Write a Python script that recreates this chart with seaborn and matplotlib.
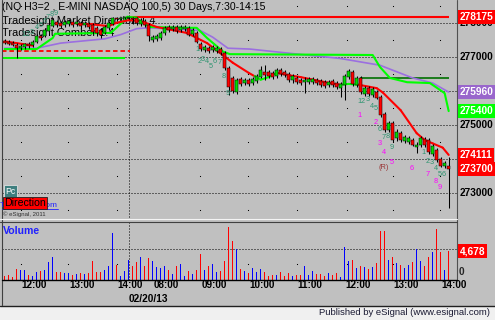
import matplotlib
matplotlib.use("Agg")
import matplotlib.pyplot as plt
import matplotlib.transforms as mtransforms
from matplotlib.lines import Line2D
from matplotlib.patches import Rectangle
import numpy as np
import pandas as pd
import seaborn as sns

# ---------------- data (5-minute NQ bars) ----------------
opens = [277450, 277425, 277400, 277350, 277250, 277275, 277375, 277350, 277425, 277600,
         277600, 277750, 277900, 278025, 278000, 277925, 277950, 278025, 277950, 278000,
         277925, 277950, 277925, 277850, 277775, 277700, 277850, 277950, 278150, 278100,
         278125, 278150, 278150, 278150, 277950, 278050, 277925, 277500, 277525, 277550,
         277700, 277875, 277825, 277875, 277775, 277825, 277850, 277675, 277700, 277375,
         277200, 277250, 277200, 277175, 277225, 277100, 276675, 276375, 275950, 276350,
         276225, 276325, 276225, 276275, 276400, 276550, 276550, 276525, 276425, 276600,
         276550, 276500, 276325, 276375, 276325, 276250, 276250, 276250, 276325, 276275,
         276250, 276175, 276275, 276225, 276075, 276175, 276400, 276550, 276175, 276375,
         275900, 276075, 275875, 275950, 275825, 275325, 274850, 275050, 274600, 274750,
         274525, 274500, 274550, 274350, 274400, 274575, 274550, 274150, 274250, 274000,
         273775, 273775]
highs = [277525, 277500, 277450, 277400, 277375, 277400, 277425, 277500, 277675, 277675,
         277850, 278000, 278150, 278075, 278050, 278075, 278100, 278075, 278075, 278050,
         278050, 278025, 278000, 277900, 277850, 277925, 278050, 278175, 278175, 278175,
         278175, 278175, 278175, 278175, 278150, 278100, 278000, 277650, 277675, 277750,
         277900, 277925, 277925, 277925, 277925, 277925, 277900, 277850, 277750, 277425,
         277350, 277325, 277350, 277325, 277275, 277175, 276725, 276425, 276375, 276400,
         276375, 276375, 276400, 276500, 276725, 276750, 276600, 276575, 276675, 276675,
         276600, 276550, 276500, 276425, 276375, 276400, 276400, 276400, 276375, 276350,
         276325, 276325, 276350, 276275, 276250, 276500, 276650, 276600, 276425, 276425,
         276150, 276150, 276100, 276025, 275875, 275375, 275100, 275100, 274875, 274825,
         274700, 274675, 274600, 274500, 274675, 274650, 274600, 274425, 274325, 274050,
         273925, 274050]
lows = [277375, 277350, 277325, 276950, 277200, 277225, 277250, 277275, 277400, 277500,
        277575, 277725, 277875, 277875, 277850, 277875, 277900, 277875, 277900, 277850,
        277875, 277825, 277675, 277600, 277550, 277675, 277775, 277925, 278050, 278075,
        278100, 278100, 277950, 277925, 277900, 277875, 277450, 277425, 277450, 277500,
        277650, 277725, 277750, 277700, 277725, 277750, 277600, 277600, 277400, 277175,
        277150, 277100, 277150, 277100, 277050, 276600, 275875, 275925, 275900, 276150,
        276175, 276150, 276175, 276225, 276375, 276325, 276375, 276350, 276375, 276425,
        276400, 276250, 276225, 276200, 276175, 275925, 276200, 276200, 276175, 276100,
        276075, 276100, 276100, 276050, 275825, 275725, 276350, 276150, 276100, 275900,
        275850, 275850, 275825, 275750, 275225, 274775, 274775, 274500, 274525, 274500,
        274450, 274425, 274375, 274175, 274350, 274350, 274150, 274075, 273900, 273750,
        273725, 272550]
closes = [277400, 277375, 277350, 277250, 277325, 277375, 277325, 277425, 277600, 277550,
          277775, 277925, 278075, 277925, 277900, 278025, 278050, 277925, 278025, 277900,
          278000, 277875, 277725, 277700, 277650, 277875, 278000, 278150, 278100, 278150,
          278175, 278175, 278100, 278000, 278075, 277925, 277600, 277575, 277600, 277700,
          277850, 277775, 277875, 277750, 277875, 277875, 277650, 277775, 277425, 277225,
          277275, 277175, 277275, 277250, 277100, 276675, 276100, 276000, 276325, 276200,
          276325, 276200, 276350, 276425, 276600, 276450, 276425, 276400, 276600, 276500,
          276450, 276325, 276425, 276250, 276225, 276325, 276350, 276350, 276225, 276175,
          276150, 276250, 276175, 276100, 276200, 276425, 276575, 276200, 276375, 275950,
          276075, 275900, 276050, 275775, 275275, 274850, 275050, 274550, 274775, 274550,
          274650, 274600, 274400, 274400, 274600, 274400, 274200, 274375, 273950, 273775,
          273875, 273700]
volumes = [545, 710, 445, 1815, 1650, 1650, 825, 545, 1270, 1370, 1535, 2855, 3680, 1270,
           1270, 1105, 1105, 710, 940, 1105, 940, 1105, 3020, 1270, 1270, 1650, 2195, 7705,
           2475, 545, 1370, 3185, 2195, 2920, 3680, 2195, 3580, 3020, 2030,
           1865, 2195, 1535, 990, 2195, 2590, 545, 1370, 990, 1535, 4290, 1650, 2195, 2590,
           1205, 1370, 3135, 8630, 6320, 5115, 1815, 1370, 1105, 1930, 1205, 1765, 1205, 545,
           825, 825, 1205, 545, 1105, 545, 710, 710, 2310, 825,
           1485, 940, 940, 660, 1105, 775, 1040, 495, 5445, 3135, 3250, 1930, 2310, 2145,
           1765, 2030, 2690, 7970, 8085, 3250, 3795, 2690, 2475, 1865, 2425, 2855, 5065,
           3135, 2310, 3795, 4505, 8365, 4505, 1650, 4678]

tick_bars = [7, 19, 31, 40, 52, 64, 76, 88, 100, 112]
tick_labels = ["12:00", "13:00", "14:00", "08:00", "09:00", "10:00", "11:00", "12:00", "13:00", "14:00"]
session_break_bar = 31
date_bar = 35.8
date_label = "02/20/13"

# Market Direction trail line (r = red, g = green, - = hidden)
trail_k = [0, 3, 7, 18, 22, 26, 28, 31, 34, 38, 45.5, 50.6, 57, 61, 62.5, 64, 66, 68, 71.3, 74,
           77, 81.3, 84, 86, 88.5, 93, 94.5, 99, 103, 105, 107, 109.5, 111]
trail_p = [277450, 277400, 277325, 277950, 277950, 277900, 278000, 278075, 278050, 277875,
           277700, 277400, 276825, 276525, 276425, 276325, 276400, 276525, 276450, 276400,
           276325, 276225, 276175, 276200, 276175, 276075, 275950, 275425, 274750, 274550,
           274450, 274325, 274111]
trail_c = "rr-rrrrrrrrrrrgggrrrrrggrrrrrrrr"

slow_green_k = [0, 8, 12, 12.6, 26.5, 30, 30.6, 33, 34, 36.3, 45.6, 48, 50.6, 54.6, 56.3, 92,
                93.8, 96.3, 100.6, 106.3, 108.8, 110, 111]
slow_green_p = [277225, 277225, 277550, 277675, 277700, 278075, 278175, 278150, 278025, 277875,
                277850, 277850, 277550, 277150, 277075, 277050, 276700, 276375, 276250, 276225,
                276025, 275925, 275400]
purple_k = [0, 8, 14, 25, 29, 33, 36, 48.8, 52, 55.8, 61.3, 71.3, 83.8, 93.8, 102, 107, 111]
purple_p = [277250, 277250, 277400, 277525, 277650, 277825, 277850, 277775, 277575, 277250,
            277225, 277100, 276950, 276750, 276375, 276225, 275960]

prior_high = 278175
prior_high_k = [31, 111]
dash_level = 277175
dash_k = [-0.67, 31.3]
green_level = 276950
green_k = [-0.67, 30]
pivot_level = 276375
pivot_k = [88.8, 111]

price_grid = [278000, 277000, 276000, 275000, 274000, 273000]
price_minor = [278500, 277500, 276500, 275500, 274500, 273500, 272500]
minor_cols = [4, 15.9, 28, 48.8, 60.9, 73, 85.5, 97.2, 108.8]
price_axis_labels = [278000, 277000, 275000, 273000]
vol_grid = 5000
vol_minor = 2500

# Comber counts: t = setup (teal), m = countdown (magenta), d = dark red
count_k = [4.8, 5.8, 6.8, 8.1, 9.1, 10.1, 10.8, 11.8, 12.8,
           48.1, 48.8, 49.6, 50.6, 51.6, 52.6, 53.8, 54.8, 55.8,
           88.6, 89.6, 90.8, 91.8, 92.8, 93.8, 94.8, 95.8, 96.8,
           104.8, 105.8, 106.8, 107.8, 108.8, 109.8,
           88.8, 92.8, 93.8, 94.7, 96.8, 101.8, 105.8, 107.8, 108.7,
           94.8]
count_p = [277650, 277650, 277700, 277850, 277925, 278050, 278150, 278250, 278275,
           277200, 276850, 276925, 276850, 276700, 276850, 276825, 276425, 275925,
           275675, 275675, 275750, 275550, 275475, 274850, 274625, 274650, 274325,
           274175, 273925, 273900, 273725, 273525, 273525,
           275275, 275075, 274450, 274175, 273900, 273700, 273550, 273325, 273150,
           273750]
count_txt = ["1", "2", "3", "4", "5", "6", "7", "8", "9",
             "1", "2", "3", "4", "5", "6", "7", "8", "9",
             "1", "2", "3", "4", "5", "6", "7", "8", "9",
             "1", "2", "3", "4", "5", "6",
             "1", "2", "3", "4", "5", "6", "7", "8", "9",
             "(R)"]
count_kind = "t" * 33 + "m" * 9 + "d"

title = "(NQ H3=2 , E-MINI NASDAQ 100,5) 30 Days,7:30-14:15"
study1 = "Tradesight Market Direction 1.4"
study2 = "Tradesight Comber 1.4"

# ---------------- style ----------------
sns.set_style("white")
plt.rcParams['font.family'] = ['Liberation Sans', 'DejaVu Sans']

BG = "#C0C0C0"
UPC, DNC = "#00DD00", "#FF0000"
TEAL, MAG, DRED = "#2e9470", "#FF00FF", "#993333"
W, H = 495, 320


def fx(px):
    return px / W


def fy(py):
    return 1 - py / H


fig = plt.figure(figsize=(W / 100, H / 100), dpi=100, facecolor=BG)
fig.patches.append(Rectangle((0, 0), 1, 14.5 / H, transform=fig.transFigure,
                             facecolor="#F0F0F0", edgecolor="none", zorder=0))

XMIN, XMAX = -0.67, 113.08
PMIN, PMAX = 272197, 278668
VMAX = 9490

axp = fig.add_axes([fx(2), fy(220), 455 / W, 220 / H])
axv = fig.add_axes([fx(2), fy(279.5), 455 / W, 57.5 / H])
for ax in (axp, axv):
    ax.set_facecolor("none")
    ax.set_axis_off()

bars = np.arange(len(opens))
o, h, l, c = (np.array(a, dtype=float) for a in (opens, highs, lows, closes))
up = c >= o

# grid
for g in price_grid:
    axp.axhline(g, color="black", lw=0.72, dashes=(1, 2), zorder=1)
gx, gy = np.meshgrid(minor_cols, price_minor)
axp.plot(gx.ravel(), gy.ravel(), ls="none", marker="s", ms=0.75, mew=0, color="black", zorder=1)
axv.axhline(vol_grid, color="black", lw=0.72, dashes=(1, 2), zorder=1)
axv.plot(minor_cols, [vol_minor] * len(minor_cols), ls="none", marker="s", ms=0.75, mew=0,
         color="black", zorder=1)
for ax in (axp, axv):
    ax.axvline(session_break_bar, color="black", lw=0.72, dashes=(1, 2), zorder=1)

# study texts (under the bars)
tt = fig.transFigure
axp.text(fx(2), fy(7.5), title, transform=tt, fontsize=7.6, color="black", va="center", zorder=1.5)
axp.text(fx(2), fy(21), study1, transform=tt, fontsize=7.9, color="black", va="center", zorder=1.5)
axp.text(fx(2), fy(33.5), study2, transform=tt, fontsize=7.9, color="black", va="center", zorder=1.5)

# horizontal levels
axp.hlines(dash_level, dash_k[0], dash_k[1], color="#FF0000", lw=1.3, linestyles=(0, (2.5, 1.6)), zorder=2)
axp.hlines(green_level, green_k[0], green_k[1], color="#00FF00", lw=1.4, zorder=2)
axp.hlines(prior_high, prior_high_k[0], prior_high_k[1], color="#FF0000", lw=1.5, zorder=2)
axp.hlines(pivot_level, pivot_k[0], pivot_k[1], color="#007000", lw=1.2, zorder=2)


def sline(ax, ks, ps, color, lw, z):
    df = pd.DataFrame({"k": ks, "p": ps})
    sns.lineplot(data=df, x="k", y="p", ax=ax, color=color, lw=lw, sort=False,
                 estimator=None, zorder=z, legend=False)


sline(axp, purple_k, purple_p, "#9B6FE0", 1.2, 2.2)
sline(axp, slow_green_k, slow_green_p, "#00FF00", 1.5, 2.3)
cmap = {"r": "#FF0000", "g": "#00FF00"}
for i in range(len(trail_k) - 1):
    if trail_c[i] == "-":
        continue
    sline(axp, trail_k[i:i + 2], trail_p[i:i + 2], cmap[trail_c[i]], 1.5, 2.4)

# candles
axp.vlines(bars, l, h, color="black", lw=0.75, zorder=3)
axp.bar(bars, np.maximum(np.abs(c - o), 10), bottom=np.minimum(o, c), width=0.68,
        color=np.where(up, UPC, DNC), edgecolor="black", linewidth=0.35, zorder=4)

# count labels
kc = {"t": TEAL, "m": MAG, "d": DRED}
for k, p, t, kind in zip(count_k, count_p, count_txt, count_kind):
    axp.text(k, p, t, fontsize=5.3, color=kc[kind], ha="center", va="center", zorder=5)

# volume
axv.bar(bars, volumes, width=0.27, color=np.where(up, "#0000FF", "#FF0000"),
        linewidth=0, zorder=3)

axp.set_xlim(XMIN, XMAX)
axp.set_ylim(PMIN, PMAX)
axv.set_xlim(XMIN, XMAX)
axv.set_ylim(0, VMAX)

# x labels
bt = mtransforms.blended_transform_factory(axv.transData, fig.transFigure)
for k, s in zip(tick_bars, tick_labels):
    fig.text(k + 0.4, fy(285.5), s, transform=bt, fontsize=7.1, fontweight="bold",
             ha="center", va="center", color="black")
fig.text(date_bar, fy(299), date_label, transform=bt, fontsize=7.3, fontweight="bold",
         ha="center", va="center", color="black")

# right axis labels
rp = mtransforms.blended_transform_factory(fig.transFigure, axp.transData)
rv = mtransforms.blended_transform_factory(fig.transFigure, axv.transData)
for v in price_axis_labels:
    off = -22 if v == 278000 else 0
    fig.text(fx(460), v + off, f"{v}", transform=rp, fontsize=7.3, fontweight="bold",
             ha="left", va="center", color="black")


def boxlab(tr, y, s, fc):
    fig.text(fx(459.5), y, s, transform=tr, fontsize=7.3, fontweight="bold", ha="left",
             va="center", color="white",
             bbox=dict(boxstyle="square,pad=0.18", fc=fc, ec="none"))


boxlab(rp, prior_high, f"{prior_high}", "#FF0000")
boxlab(rp, purple_p[-1], f"{purple_p[-1]}", "#9966CC")
boxlab(rp, slow_green_p[-1], f"{slow_green_p[-1]}", "#00FF00")
boxlab(rp, trail_p[-1], f"{trail_p[-1]}", "#FF0000")
boxlab(rp, closes[-1], f"{closes[-1]}", "#FF0000")
boxlab(rv, volumes[-1], f"{volumes[-1]:,}", "#FF0000")
fig.text(fx(459), fy(272), "0", fontsize=7.3, fontweight="bold", ha="left", va="center")

# frame lines
def fline(x0, y0, x1, y1, color, lw):
    fig.add_artist(Line2D([fx(x0), fx(x1)], [fy(y0), fy(y1)], transform=fig.transFigure,
                          color=color, lw=lw))


fline(1.5, 0, 1.5, 305, "#404040", 0.8)
fline(457, 0, 457, 280, "#505050", 0.8)
fline(0, 218.5, 457, 218.5, "#F4F4F4", 0.8)
fline(0, 221.5, 457, 221.5, "#404040", 0.8)
fline(2, 279.8, 457, 279.8, "black", 1.0)
fline(0, 305.5, 495, 305.5, "#202020", 1.0)

# left-bottom widgets
fig.text(fx(58), fy(205.5), "Tradesight.com", fontsize=6, color="#2020FF", ha="right", va="center")
fline(2, 209.3, 58, 209.3, "#2020FF", 0.6)
fig.text(fx(10.5), fy(191), "Pc", fontsize=6.2, color="white", ha="center", va="center",
         bbox=dict(boxstyle="square,pad=0.2", fc="#3F7F7F", ec="#E0E0E0", lw=0.6))
fig.text(fx(4), fy(203), "Direction", fontsize=7.6, color="black", ha="left", va="center",
         bbox=dict(boxstyle="square,pad=0.12", fc="#FF0000", ec="#202020", lw=0.6))
fig.text(fx(3), fy(214.5), "\u00a9 eSignal, 2011", fontsize=4.3, color="#303030", ha="left", va="center")
fig.text(fx(2.5), fy(230.5), "Volume", fontsize=7.6, fontweight="bold", color="#2020FF",
         ha="left", va="center")
fig.text(fx(490), fy(312.5), "Published by eSignal (www.esignal.com)", fontsize=6.8,
         color="#1a1a33", ha="right", va="center")

fig.savefig("out.png", dpi=100, facecolor=BG)
